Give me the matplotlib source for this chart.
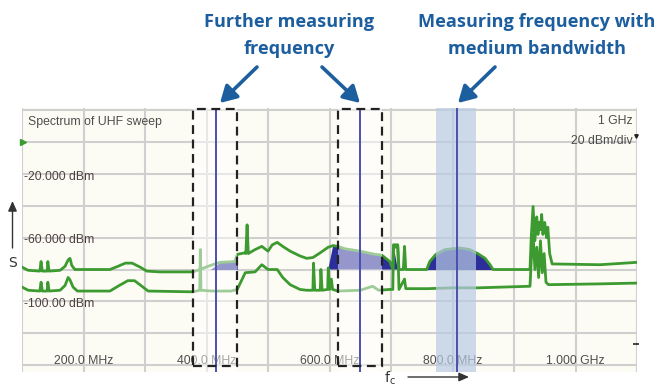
import matplotlib
matplotlib.use("Agg")
import matplotlib.pyplot as plt
from matplotlib.patches import Rectangle, FancyArrowPatch
import numpy as np

# ---------------- data (MHz, dBm) ----------------
upper_f = [100, 110, 129, 131, 133, 141, 142, 144, 162, 170, 175, 178, 181, 186, 243, 256, 268, 279,
           292, 303, 324, 378, 389, 406, 422, 446, 450, 463, 464, 466, 468, 479, 490, 500, 507, 515,
           524, 536, 552, 563, 573, 585, 598, 606, 614, 625, 650, 674, 685, 698, 703, 704, 711, 713,
           720, 722, 724, 758, 763, 773, 788, 812, 828, 841, 853, 861, 866, 926, 928, 931, 934, 937,
           939, 941, 943, 945, 947, 950, 953, 955, 958, 962, 1040, 1100]
upper_db = [-78.5, -80.5, -81, -75, -81, -81, -75, -81, -80.5, -78, -74, -73, -77.5, -80, -80, -78, -76, -76,
            -78.5, -81, -81.5, -81.5, -80, -77.5, -75.5, -75, -70.5, -69.5, -70, -52, -70, -67.5, -65.5, -68.5, -64.5, -63,
            -65.5, -68.5, -71.5, -73, -72.5, -69.5, -66, -65, -65.5, -67, -68.5, -70.5, -71, -75, -80, -64.5, -64.5, -80,
            -80, -65.5, -80, -80, -75, -70.5, -67.5, -66.5, -67.5, -70, -73, -77, -80, -80, -60, -40.5, -62, -47,
            -58, -50.5, -55, -45.5, -58, -50.5, -60, -53.5, -70, -76.5, -77, -75.5]

lower_f = [100, 110, 129, 131, 133, 141, 142, 144, 162, 170, 175, 178, 183, 190, 243, 256, 272, 283,
           295, 305, 378, 389, 390, 391, 410, 440, 450, 463, 479, 490, 500, 515, 524, 536, 552, 563,
           573, 574, 576, 585, 586, 588, 597, 598, 600, 603, 605, 614, 650, 670, 680, 698, 703, 704,
           711, 713, 722, 724, 760, 800, 840, 926, 928, 931, 934, 937, 940, 943, 946, 949, 952, 956,
           1040, 1100]
lower_db = [-91, -93, -93.5, -88, -93.5, -93.5, -88, -93.5, -93, -90, -85, -86.5, -91, -93.5, -93.5, -90.5, -87, -87,
            -90.5, -93.5, -94, -93, -67.5, -93, -93.5, -93.5, -92.5, -82, -81.5, -77, -80, -80, -85, -89.5, -92.5, -93,
            -93, -76, -93, -93, -80, -93, -92.5, -79, -92.5, -86, -92.5, -93.5, -93, -90.5, -93, -92.5, -92.5, -66,
            -66, -92.5, -86, -92, -92, -91.5, -91.5, -90.5, -75, -58, -80, -66, -85, -62, -82, -70, -88, -89.5,
            -89, -88.5]

fill_ranges = [(415, 450), (605, 705), (756, 868)]
fill_floor = -80

box_ranges = [(378, 450), (614, 685)]
band_range = (773, 838)
marker_freqs = [415, 650, 807]

x_ticks = [200, 400, 600, 800, 1000]
x_tick_labels = ["200.0 MHz", "400.0 MHz", "600.0 MHz", "800.0 MHz", "1.000 GHz"]
y_levels = [-20, -60, -100]
y_level_labels = ["-20.000 dBm", "-60.000 dBm", "-100.00 dBm"]

# ---------------- figure ----------------
W, H = 661, 386
fig = plt.figure(figsize=(W / 100, H / 100), dpi=100)
fig.patch.set_facecolor("white")


def fx(px):
    return px / W


def fy(py):
    return 1 - py / H


ax = fig.add_axes([fx(22), fy(372.4), 615 / W, (372.4 - 108.4) / H])
ax.set_xlim(100, 1100)
ax.set_ylim(-144.5, 21)
ax.set_facecolor("#fdfcf4")
for s in ax.spines.values():
    s.set_visible(False)
ax.set_xticks([])
ax.set_yticks([])

grid_c = "#cfcfcf"
for f in range(100, 1101, 100):
    ax.axvline(f, color=grid_c, lw=1.5, zorder=0.5)
for l in range(-140, 21, 20):
    ax.axhline(l, color=grid_c, lw=1.5, zorder=0.5)

green = "#3c9a30"
uf = np.array(upper_f, float)
ud = np.array(upper_db, float)
lf = np.array(lower_f, float)
ld = np.array(lower_db, float)

# filled channel areas
for a, b in fill_ranges:
    m = (uf >= a) & (uf <= b)
    ax.fill_between(uf, fill_floor, ud, where=m & (ud > fill_floor), interpolate=True,
                    color="#2c2f9a", lw=0, zorder=1.5)

ax.plot(lf, ld, color=green, lw=2.0, zorder=2)
ax.plot(uf, ud, color=green, lw=2.0, zorder=2)

# instrument texts
tc = "#4d4d4d"
fnt = "Liberation Sans"
fs = 8.8
for f, lab in zip(x_ticks, x_tick_labels):
    ax.text(f, -137.3, lab, ha="center", va="center", fontsize=fs, color=tc, family=fnt, zorder=2.5)
for l, lab in zip(y_levels, y_level_labels):
    ax.text(103, l - 1.8, lab, ha="left", va="center", fontsize=fs, color="#4f4040", family=fnt, zorder=2.5)
ax.text(110, 12.5, "Spectrum of UHF sweep", ha="left", va="center", fontsize=fs, color=tc, family=fnt, zorder=2.5)
ax.text(1093, 13, "1 GHz", ha="right", va="center", fontsize=fs, color=tc, family=fnt, zorder=2.5)
ax.text(1093, 0.8, "20 dBm/div", ha="right", va="center", fontsize=fs, color=tc, family=fnt, zorder=2.5)
ax.plot([101.5], [0], marker=">", color=green, ms=4, zorder=3, clip_on=False)
ax.plot([1098], [4], marker="v", color="#222222", ms=2.5, zorder=3, clip_on=False)
ax.plot([1098], [-127], marker="_", color="#222222", ms=4, mew=1.2, zorder=3, clip_on=False)

# overlays
for a, b in box_ranges:
    ax.add_patch(Rectangle((a, -144.5), b - a, 165.5, facecolor="white", alpha=0.5, lw=0, zorder=3))
ax.add_patch(Rectangle((band_range[0], -144.5), band_range[1] - band_range[0], 165.5,
                       facecolor="#b9cbe3", alpha=0.7, lw=0, zorder=3))

for f in marker_freqs:
    ax.plot([f, f], [-144.5, 20.5], color="#4b50ad", lw=1.4, zorder=4)

for a, b in box_ranges:
    ax.add_patch(Rectangle((a, -140.3), b - a, 161.0, fill=False, edgecolor="#222222", lw=1.6,
                           linestyle=(0, (4, 2.5)), zorder=4.5, clip_on=False))

# ---------------- callouts ----------------
blue = "#1d5e9e"
tf = dict(ha="center", va="center", fontsize=13.1, fontweight="bold", color=blue, family="Open Sans")
fig.text(fx(289), fy(22), "Further measuring", **tf)
fig.text(fx(289), fy(49), "frequency", **tf)
fig.text(fx(537), fy(22), "Measuring frequency with", **tf)
fig.text(fx(537), fy(49), "medium bandwidth", **tf)

aprops = dict(arrowstyle="-|>,head_length=0.7,head_width=0.4", color=blue, lw=2.6,
              mutation_scale=14, shrinkA=0, shrinkB=0)
for (x0, y0), (x1, y1) in [((257, 67), (220, 103)), ((322, 67), (360, 103)), ((495, 67), (458, 103))]:
    fig.add_artist(FancyArrowPatch((fx(x0), fy(y0)), (fx(x1), fy(y1)),
                                   transform=fig.transFigure, **aprops))

dark = "#333333"
thin = dict(arrowstyle="-|>,head_length=0.5,head_width=0.22", color=dark, lw=1.0,
            mutation_scale=12, shrinkA=0, shrinkB=0)
fig.add_artist(FancyArrowPatch((fx(12.5), fy(248)), (fx(12.5), fy(201)),
                               transform=fig.transFigure, **thin))
fig.text(fx(12.5), fy(263), "S", ha="center", va="center", fontsize=10, color=dark, family="DejaVu Sans")
fig.text(fx(390), fy(378), r"f$_\mathregular{c}$", ha="center", va="center", fontsize=10, color=dark,
         family="DejaVu Sans")
fig.add_artist(FancyArrowPatch((fx(408), fy(377)), (fx(469), fy(377)),
                               transform=fig.transFigure, **thin))

fig.savefig("out.png", dpi=100, facecolor="white")
